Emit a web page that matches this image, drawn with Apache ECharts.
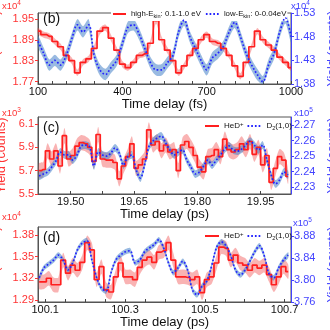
<!DOCTYPE html>
<html><head><meta charset="utf-8">
<script src="https://cdn.jsdelivr.net/npm/echarts@6/dist/echarts.min.js"></script>
<style>html,body{margin:0;padding:0;background:#fff}#c{width:330px;height:330px}</style>
</head><body><div id="c"></div>
<script>
// ---------- Panel (b): Time delay (fs) ----------
const tB = [100,120,140,160,180,200,220,240,260,280,300,320,340,360,380,400,420,440,460,480,500,520,540,560,580,600,620,640,660,680,700,720,740,760,780,800,820,840,860,880,900,920,940,960,980,1000];
const redB = [1.915,1.905,1.90,1.885,1.87,1.845,1.83,1.795,1.825,1.835,1.865,1.915,1.925,1.895,1.86,1.82,1.81,1.825,1.845,1.85,1.88,1.945,1.89,1.86,1.83,1.795,1.815,1.845,1.865,1.89,1.905,1.885,1.88,1.865,1.845,1.815,1.785,1.825,1.87,1.915,1.89,1.875,1.86,1.84,1.825,1.81];
const blueB = [1.47,1.445,1.42,1.43,1.42,1.44,1.475,1.505,1.49,1.505,1.44,1.41,1.40,1.415,1.43,1.465,1.50,1.505,1.485,1.455,1.425,1.41,1.41,1.425,1.44,1.49,1.515,1.48,1.455,1.43,1.41,1.435,1.445,1.46,1.49,1.51,1.48,1.445,1.42,1.40,1.385,1.42,1.445,1.49,1.52,1.48];
const errRedB = 0.009, errBlueB = 0.012;
const xLabelsB = [100,400,700,1000];
const xTicksB = [100,150,200,250,300,350,400,450,500,550,600,650,700,750,800,850,900,950,1000];
const yLeftB = [1.77,1.83,1.89,1.95];
const yRightB = [1.38,1.43,1.48,1.53];

// ---------- Panel (c): Time delay (ps) ----------
const tC = [19.425,19.435,19.445,19.455,19.465,19.475,19.485,19.495,19.505,19.515,19.525,19.535,19.545,19.555,19.565,19.575,19.585,19.595,19.605,19.615,19.625,19.635,19.645,19.655,19.665,19.675,19.685,19.695,19.705,19.715,19.725,19.735,19.745,19.755,19.765,19.775,19.785,19.795,19.805,19.815,19.825,19.835,19.845,19.855,19.865,19.875,19.885,19.895,19.905,19.915,19.925,19.935,19.945,19.955,19.965,19.975,19.985,19.995,20.005,20.015];
const redC = [5.70,5.71,5.87,5.80,5.87,5.74,6.00,5.80,5.83,5.91,5.94,5.93,5.90,5.78,6.01,5.80,5.79,5.79,5.77,5.63,5.74,5.82,5.93,5.72,5.75,5.80,6.05,5.92,5.95,5.87,5.92,5.86,5.88,5.70,5.92,5.95,5.90,5.83,5.73,5.69,5.82,5.83,5.88,5.82,5.97,5.88,5.86,5.88,5.93,5.88,5.95,5.84,5.90,5.75,5.83,5.60,5.72,5.82,5.79,5.65];
const blueC = [2.2371,2.2384,2.2397,2.2429,2.2468,2.2526,2.2507,2.2507,2.2474,2.2507,2.2565,2.2571,2.2558,2.2436,2.2526,2.2507,2.2500,2.2519,2.2552,2.2519,2.2442,2.2494,2.2507,2.2410,2.2358,2.2442,2.2558,2.2597,2.2616,2.2629,2.2584,2.2539,2.2507,2.2526,2.2539,2.2474,2.2429,2.2384,2.2397,2.2436,2.2474,2.2442,2.2474,2.2507,2.2545,2.2565,2.2539,2.2532,2.2545,2.2571,2.2597,2.2571,2.2539,2.2571,2.2474,2.2378,2.2320,2.2345,2.2397,2.2378];
const errRedC = 0.065, errBlueC = 0.0025;
const xLabelsC = [19.50,19.65,19.80,19.95];
const xTicksC = [19.50,19.575,19.65,19.725,19.80,19.875,19.95];
const yLeftC = [5.5,5.7,5.9,6.1];
const yRightC = [2.23,2.24,2.25,2.26,2.27];

// ---------- Panel (d): Time delay (ps) ----------
const tD = [100.085,100.097,100.109,100.121,100.133,100.145,100.157,100.169,100.181,100.193,100.205,100.217,100.229,100.241,100.253,100.265,100.277,100.289,100.301,100.313,100.325,100.337,100.349,100.361,100.373,100.385,100.397,100.409,100.421,100.433,100.445,100.457,100.469,100.481,100.493,100.505,100.517,100.529,100.541,100.553,100.565,100.577,100.589,100.601,100.613,100.625,100.637,100.649,100.661,100.673,100.685,100.697,100.709];
const redD = [1.315,1.315,1.320,1.311,1.311,1.345,1.327,1.338,1.331,1.342,1.369,1.359,1.318,1.336,1.304,1.301,1.322,1.341,1.322,1.322,1.318,1.335,1.345,1.349,1.342,1.356,1.358,1.369,1.345,1.322,1.322,1.321,1.318,1.322,1.300,1.318,1.322,1.341,1.363,1.361,1.345,1.352,1.341,1.338,1.331,1.338,1.334,1.338,1.325,1.311,1.322,1.336,1.329];
const blueD = [3.804,3.822,3.829,3.836,3.845,3.836,3.818,3.831,3.855,3.867,3.871,3.836,3.804,3.785,3.780,3.813,3.836,3.845,3.851,3.853,3.831,3.836,3.851,3.858,3.864,3.873,3.858,3.831,3.813,3.822,3.834,3.818,3.782,3.773,3.789,3.798,3.825,3.858,3.869,3.862,3.844,3.818,3.809,3.818,3.834,3.851,3.862,3.844,3.811,3.804,3.822,3.836,3.845];
const errRedD = 0.010, errBlueD = 0.005;
const xLabelsD = [100.1,100.3,100.5,100.7];
const xTicksD = [100.1,100.15,100.2,100.25,100.3,100.35,100.4,100.45,100.5,100.55,100.6,100.65,100.7];
const yLeftD = [1.29,1.32,1.35,1.38];
const yRightD = [3.76,3.80,3.84,3.88];

// ---------- styling ----------
const FONT = '"Liberation Sans", Arial, Helvetica, sans-serif';
const RED = '#ff1f1f', BLUE = '#2424ff';
const RED_AX = '#ff3434', BLUE_AX = '#4343ff';
const PINK = 'rgba(240,75,75,0.42)', LBLUE = 'rgba(70,130,200,0.55)';
const INK = '#111';

const chart = echarts.init(document.getElementById('c'), null, {renderer:'canvas'});

const gridDefs = [
  {left:38, right:39, top:13, height:71},
  {left:38, right:39, top:117, height:77},
  {left:38, right:39, top:227, height:75}
].map(g => Object.assign(g, {show:true, borderColor:'#555', borderWidth:1, backgroundColor:'transparent', containLabel:false, outerBoundsMode:'none'}));

const yRanges = [
  [1.7628, 1.967], [1.38, 1.53],
  [5.5, 6.16], [2.2255, 2.2752],
  [1.2872, 1.3907], [3.76, 3.896]
];

function xAx(gi, min, max, labels, ticks, dec, name, gap) {
  return {type:'value', gridIndex:gi, min, max,
    axisLine:{show:true, onZero:false, lineStyle:{color:'#555', width:1}},
    axisTick:{show:true, inside:true, length:3, customValues:ticks, lineStyle:{color:'#444'}},
    axisLabel:{customValues:labels, formatter:v => v.toFixed(dec), color:INK, fontSize:11, margin:2, fontFamily:FONT},
    splitLine:{show:false},
    name, nameLocation:'middle', nameGap:gap,
    nameTextStyle:{color:INK, fontSize:13, fontFamily:FONT}};
}
function yAx(gi, pos, yi, vals, dec, color) {
  const left = pos === 'left';
  return {type:'value', gridIndex:gi, position:pos, min:yRanges[yi][0], max:yRanges[yi][1],
    axisLine:{show:true, onZero:false, lineStyle:{color: left ? '#555' : color, width:1}},
    axisTick:{show:true, inside:false, length:3, customValues:vals, lineStyle:{color}},
    axisLabel:{customValues:vals, formatter:v => v.toFixed(dec), color, fontSize:11, margin: left ? 4 : 3, fontFamily:FONT},
    splitLine:{show:false},
    name:'Yield (counts)', nameLocation:'middle', nameRotate:90, nameGap: left ? 21 : 13,
    nameTextStyle:{color, fontSize:12.5, fontFamily:FONT}};
}

function pairs(xs, ys) { return xs.map((x, i) => [x, ys[i]]); }
function bandSeries(id, xs, ys, err, xi, yi, color) {
  const lo = yRanges[yi][0], hi = yRanges[yi][1];
  const clamp = v => Math.max(lo, Math.min(hi, v));
  return {type:'custom', id, coordinateSystem:'cartesian2d', xAxisIndex:xi, yAxisIndex:yi,
    data:[[xs[0], ys[0]]], silent:true, animation:false, z:1,
    renderItem:(params, api) => {
      const upper = xs.map((x, i) => api.coord([x, clamp(ys[i] + err)]));
      const lower = xs.map((x, i) => api.coord([x, clamp(ys[i] - err)])).reverse();
      return {type:'polygon', shape:{points: upper.concat(lower), smooth:0.25}, style:{fill:color, stroke:null}};
    }};
}
function redLine(name, xs, ys, xi, yi) {
  return {type:'line', name, xAxisIndex:xi, yAxisIndex:yi, data:pairs(xs, ys), step:'middle',
    symbol:'none', lineStyle:{color:RED, width:1.7}, itemStyle:{color:RED}, animation:false, z:3};
}
function blueLine(name, xs, ys, xi, yi) {
  return {type:'line', name, xAxisIndex:xi, yAxisIndex:yi, data:pairs(xs, ys), smooth:0.35,
    symbol:'none', lineStyle:{color:BLUE, width:1.7, type:[1.7,2]}, itemStyle:{color:BLUE}, animation:false, z:4};
}

const series = [
  bandSeries('bRB', tB, redB, errRedB, 0, 0, PINK),
  bandSeries('bBB', tB, blueB, errBlueB, 0, 1, LBLUE),
  redLine('redB', tB, redB, 0, 0), blueLine('blueB', tB, blueB, 0, 1),
  bandSeries('bRC', tC, redC, errRedC, 1, 2, PINK),
  bandSeries('bBC', tC, blueC, errBlueC, 1, 3, LBLUE),
  redLine('redC', tC, redC, 1, 2), blueLine('blueC', tC, blueC, 1, 3),
  bandSeries('bRD', tD, redD, errRedD, 2, 4, PINK),
  bandSeries('bBD', tD, blueD, errBlueD, 2, 5, LBLUE),
  redLine('redD', tD, redD, 2, 4), blueLine('blueD', tD, blueD, 2, 5)
];

const legRich = {
  t:{fontSize:7.8, color:INK, fontFamily:FONT},
  s:{fontSize:5.5, color:INK, fontFamily:FONT, padding:[4,0,0,0]},
  u:{fontSize:8, color:INK, fontFamily:FONT},
  us:{fontSize:5.5, color:INK, fontFamily:FONT, padding:[4,0,0,0]},
  up:{fontSize:6, color:INK, fontFamily:FONT, padding:[0,0,4,0]}
};
const legendLabels = {
  redB:'{t|high-E}{s|kin}{t|: 0.1-1.0 eV}',
  blueB:'{t|low-E}{s|kin}{t|: 0-0.04eV}',
  redC:'{u|HeD}{up|+}', blueC:'{u|D}{us|2}{u|(1,0)}',
  redD:'{u|HeD}{up|+}', blueD:'{u|D}{us|2}{u|(1,0)}'
};
function leg(data, left, top, bg, w, gap) {
  return {data, left, top, orient:'horizontal', itemWidth:w, itemHeight:2, itemGap:gap,
    padding:[2,1], backgroundColor:bg, selectedMode:false,
    itemStyle:{opacity:0},
    textStyle:{fontSize:8, color:INK, fontFamily:FONT, rich:legRich},
    formatter:n => legendLabels[n]};
}

function xTxt(left, top, exp, color) {
  return {type:'text', left, top, z:10, style:{text:'{a|x10}{b|' + exp + '}',
    rich:{a:{fontSize:9.5, fill:color, fontFamily:FONT}, b:{fontSize:6.5, fill:color, fontFamily:FONT, padding:[0,0,5,0]}}}};
}
function pTxt(left, top, s) {
  return {type:'text', left, top, z:10, style:{text:s, fontSize:14, fill:INK, fontFamily:FONT}};
}

chart.setOption({
  animation:false,
  backgroundColor:'#fff',
  grid: gridDefs,
  xAxis: [
    xAx(0, 100, 1000, xLabelsB, xTicksB, 0, 'Time delay (fs)', 13),
    xAx(1, 19.4225, 20.022, xLabelsC, xTicksC, 2, 'Time delay (ps)', 13),
    xAx(2, 100.082, 100.716, xLabelsD, xTicksD, 1, 'Time delay (ps)', 12)
  ],
  yAxis: [
    yAx(0, 'left', 0, yLeftB, 2, RED_AX),
    yAx(0, 'right', 1, yRightB, 2, BLUE_AX),
    yAx(1, 'left', 2, yLeftC, 1, RED_AX),
    yAx(1, 'right', 3, yRightC, 2, BLUE_AX),
    yAx(2, 'left', 4, yLeftD, 2, RED_AX),
    yAx(2, 'right', 5, yRightD, 2, BLUE_AX)
  ],
  legend: [
    leg(['redB','blueB'], 111, 8, '#fff', 13, 4),
    leg(['redC','blueC'], 203, 119, 'transparent', 14, 3),
    leg(['redD','blueD'], 203, 229, 'transparent', 14, 3)
  ],
  graphic: [
    pTxt(43, 12, '(b)'), pTxt(43, 121, '(c)'), pTxt(43, 231, '(d)'),
    xTxt(2, 0, '4', RED_AX), xTxt(291, 0, '4', BLUE_AX),
    xTxt(2, 107, '3', RED_AX), xTxt(294, 107, '5', BLUE_AX),
    xTxt(2, 211, '4', RED_AX), xTxt(293, 217, '5', BLUE_AX)
  ],
  series
});
</script></body></html>
